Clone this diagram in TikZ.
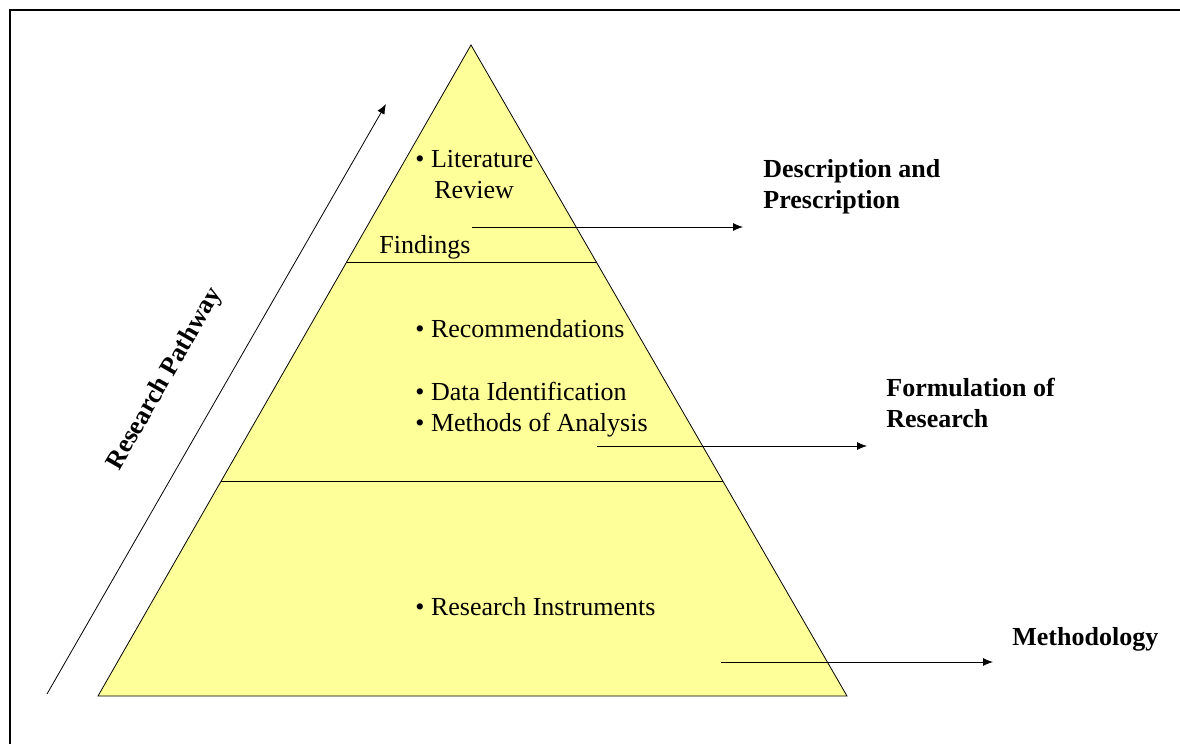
\documentclass[tikz,border=0pt]{standalone}
\usepackage{fontspec}
\setmainfont{Liberation Serif}
\usetikzlibrary{arrows.meta}
\definecolor{pyrfill}{HTML}{FFFF99}
\tikzset{
    txt/.style = {anchor=base west, inner sep=0pt, font=\fontsize{13}{15.5}\selectfont},
    bold/.style = {txt, font=\fontsize{13}{15.5}\selectfont\bfseries},
    pointer/.style = {-{Latex[length=5pt,width=4pt]}, thin}
}
\begin{document}
\begin{tikzpicture}[x=0.5pt, y=-0.5pt]
    \useasboundingbox (0,0) rectangle (1180,744);
    \draw[line width=1pt] (10,744) -- (10,10) -- (1180,10);
    % pyramid
    \coordinate (apex) at (471,45);
    \coordinate (bl) at (98,696);
    \coordinate (br) at (847,696);
    \draw[fill=pyrfill, thin] (apex) -- (bl) -- (br) -- cycle;
    \draw[thin] (346.7,262) -- (596.3,262);
    \draw[thin] (221.2,481) -- (722.8,481);
    % texts in the pyramid
    \node[txt] (lit) at (415,167) {\textbullet\ Literature};
    \node[txt] (rev) at (434,198) {Review};
    \node[txt] (find) at (379,253) {Findings};
    \node[txt] (rec) at (415,337) {\textbullet\ Recommendations};
    \node[txt] (data) at (415,400) {\textbullet\ Data Identification};
    \node[txt] (meth) at (415,431) {\textbullet\ Methods of Analysis};
    \node[txt] (instr) at (415,615) {\textbullet\ Research Instruments};
    % labels on the right
    \node[bold] (desc) at (763,177) {Description and};
    \node[bold] (presc) at (763,208) {Prescription};
    \node[bold] (form) at (886,396) {Formulation of};
    \node[bold] (resr) at (886,427) {Research};
    \node[bold] (methd) at (1012,645) {Methodology};
    % arrows
    \coordinate (a1) at (472,227);
    \coordinate (b1) at (743,227);
    \coordinate (a2) at (597,446);
    \coordinate (b2) at (867,446);
    \coordinate (a3) at (721,662);
    \coordinate (b3) at (993,662);
    \draw[pointer] (a1) -- (b1);
    \draw[pointer] (a2) -- (b2);
    \draw[pointer] (a3) -- (b3);
    % pathway
    \coordinate (p0) at (47,694);
    \coordinate (p1) at (386,104);
    \draw[pointer] (p0) -- (p1);
    \node[font=\fontsize{13}{15.5}\selectfont\bfseries, rotate=60] (path) at (165,379) {Research Pathway};
\end{tikzpicture}
\end{document}
